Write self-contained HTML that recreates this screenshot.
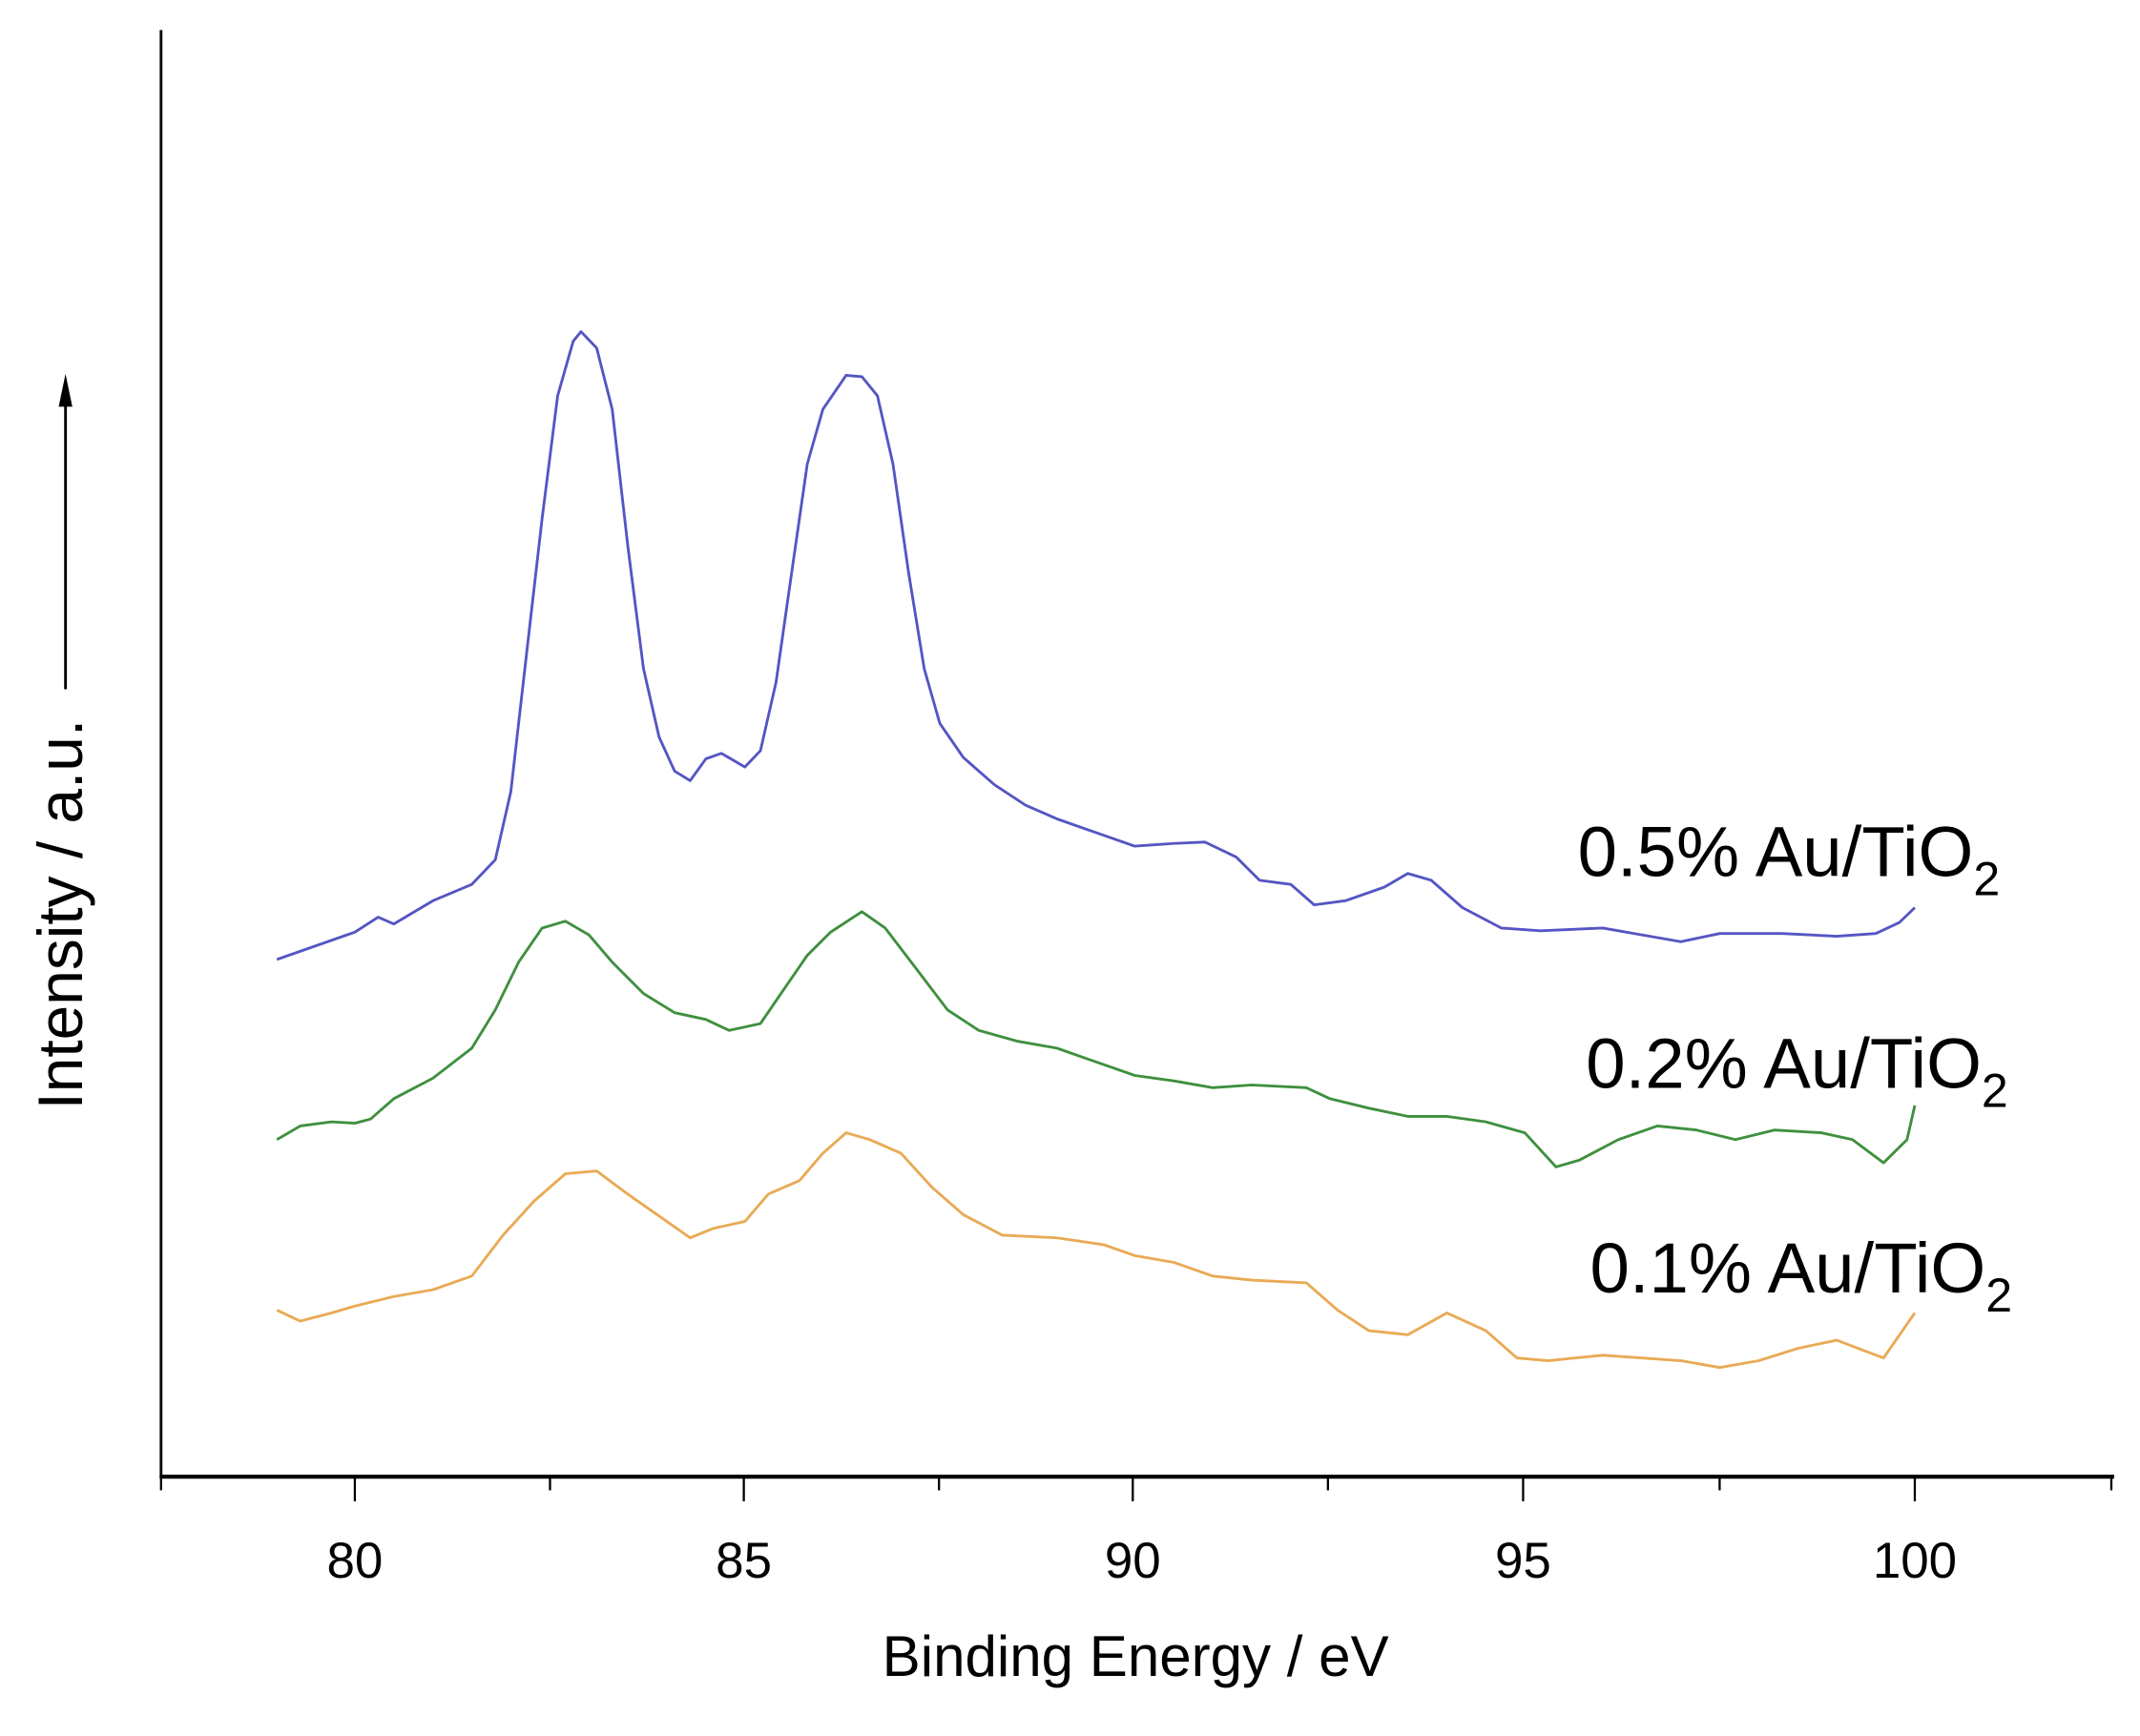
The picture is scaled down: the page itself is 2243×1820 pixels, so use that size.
<!DOCTYPE html>
<html><head><meta charset="utf-8"><style>html,body{margin:0;padding:0;background:#fff}svg{display:block}</style></head>
<body>
<svg width="2243" height="1820" viewBox="0 0 1568 1272" preserveAspectRatio="none" xmlns="http://www.w3.org/2000/svg" font-family="Liberation Sans, Arial, sans-serif">
<rect width="1568" height="1272" fill="#fff"/>
<line x1="118" y1="22" x2="118" y2="1083" stroke="#000" stroke-width="2"/>
<line x1="117" y1="1082" x2="1549" y2="1082" stroke="#000" stroke-width="3"/>
<g stroke="#000" stroke-width="1.6">
<line x1="118" y1="1082" x2="118" y2="1092"/><line x1="260" y1="1082" x2="260" y2="1100"/>
<line x1="403" y1="1082" x2="403" y2="1092"/><line x1="545" y1="1082" x2="545" y2="1100"/>
<line x1="688" y1="1082" x2="688" y2="1092"/><line x1="830" y1="1082" x2="830" y2="1100"/>
<line x1="973" y1="1082" x2="973" y2="1092"/><line x1="1116" y1="1082" x2="1116" y2="1100"/>
<line x1="1260" y1="1082" x2="1260" y2="1092"/><line x1="1403" y1="1082" x2="1403" y2="1100"/>
<line x1="1547" y1="1082" x2="1547" y2="1092"/>
</g>
<g font-size="37" text-anchor="middle" fill="#000">
<text x="260" y="1156">80</text><text x="545" y="1156">85</text><text x="830" y="1156">90</text><text x="1116" y="1156">95</text><text x="1403" y="1156">100</text>
</g>
<text x="832" y="1228" font-size="42" text-anchor="middle">Binding Energy / eV</text>
<text transform="translate(60,670) rotate(-90)" font-size="46" text-anchor="middle">Intensity / a.u.</text>
<line x1="48" y1="505" x2="48" y2="290" stroke="#000" stroke-width="2"/>
<polygon points="48,274 43,298 53,298" fill="#000"/>
<g fill="none" stroke-width="2" stroke-linejoin="round">
<polyline stroke="#5555c4" points="202.9,703 260,683 277.1,672 288.6,677 317.2,660 345.7,648 362.9,630 374.3,580 385.7,480 397.2,380 408.6,290 420,250 425.7,243 437.2,255 448.6,300 460,400 471.5,490 482.9,540 494.3,565 505.7,572 517.2,556 528.6,552 545.8,562 557.2,550 568.6,500 580,420 591.5,340 602.9,300 620,275 631.5,276 642.9,290 654.3,340 665.8,420 677.2,490 688.6,530 705.8,555 728.6,575 751.5,590 774.4,600 802.9,610 831.5,620 860.1,618 882.9,617 905.8,628 922.9,645 945.8,648 962.9,663 985.8,660 1014.4,650 1031.5,640 1048.7,645 1071.5,665 1100.1,680 1128.7,682 1174.4,680 1203,685 1231.6,690 1260.1,684 1305.8,684 1345.8,686 1374.4,684 1391.6,676 1403,665"/>
<polyline stroke="#3f8f3f" points="202.9,835 220,825 242.9,822 260,823 271.4,820 288.6,805 317.2,790 345.7,768 362.9,740 380,705 397.2,680 414.3,675 431.5,685 448.6,705 471.5,728 494.3,742 517.2,747 534.3,755 557.2,750 574.3,725 591.5,700 608.6,683 631.5,668 648.6,680 671.5,710 694.3,740 717.2,755 745.8,763 774.4,768 802.9,778 831.5,788 860.1,792 888.6,797 917.2,795 957.2,797 974.4,805 1003,812 1031.5,818 1060.1,818 1088.7,822 1117.2,830 1140.1,855 1157.3,850 1185.8,835 1214.4,825 1243,828 1271.6,835 1300.1,828 1334.4,830 1357.3,835 1380.1,852 1397.3,835 1403,810"/>
<polyline stroke="#e9aa55" points="202.9,960 220,968 242.9,962 260,957 288.6,950 317.2,945 345.7,935 368.6,905 391.4,880 414.3,860 437.2,858 460,875 488.6,895 505.7,907 522.9,900 545.8,895 562.9,875 585.8,865 602.9,845 620,830 637.2,835 660.1,845 682.9,870 705.8,890 734.3,905 774.4,907 808.6,912 831.5,920 860.1,925 888.6,935 917.2,938 957.2,940 980.1,960 1003,975 1031.5,978 1060.1,962 1088.7,975 1111.5,995 1134.4,997 1174.4,993 1203,995 1231.6,997 1260.1,1002 1288.7,997 1317.3,988 1345.8,982 1380.1,995 1403,962"/>
</g>
<g font-size="52" fill="#000">
<text x="1156" y="642">0.5% Au/TiO<tspan font-size="35" dy="14">2</tspan></text>
<text x="1162" y="797">0.2% Au/TiO<tspan font-size="35" dy="14">2</tspan></text>
<text x="1165" y="947">0.1% Au/TiO<tspan font-size="35" dy="14">2</tspan></text>
</g>
</svg>
</body></html>
